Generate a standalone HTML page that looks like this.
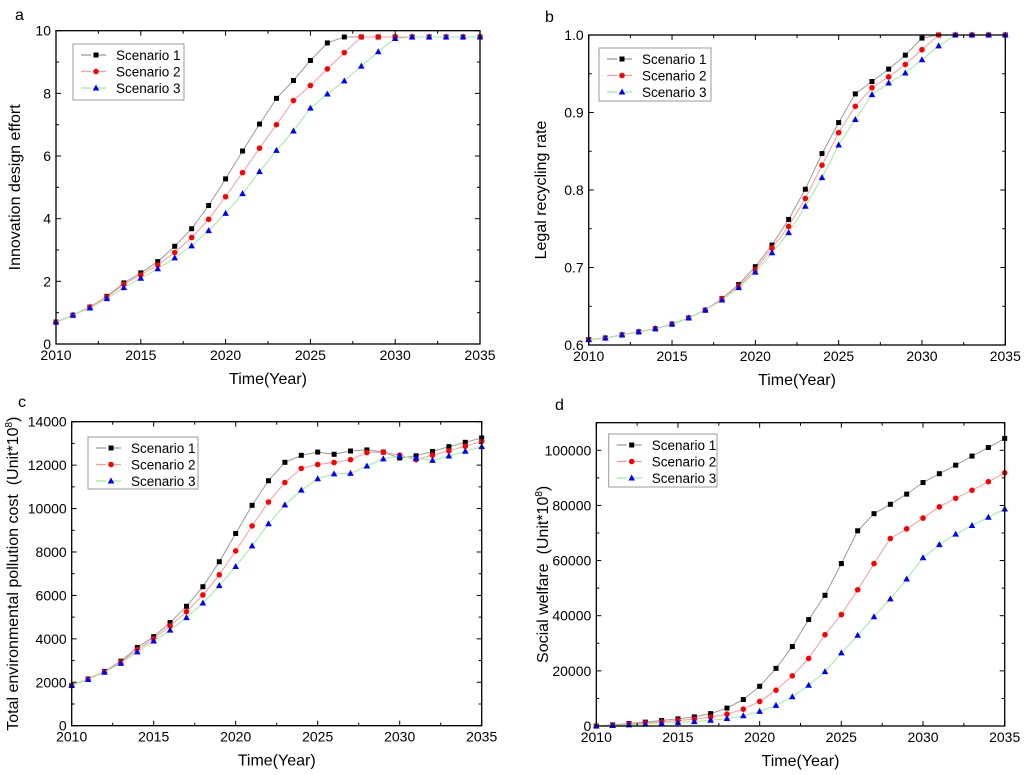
<!DOCTYPE html>
<html><head><meta charset="utf-8"><style>
html,body{margin:0;padding:0;background:#fff;width:1024px;height:775px;overflow:hidden}
svg{display:block;font-family:"Liberation Sans",Arial,sans-serif}
</style></head><body>
<svg id="fig" width="1024" height="775" viewBox="0 0 1024 775"></svg>
<script>
const years = [2010,2011,2012,2013,2014,2015,2016,2017,2018,2019,2020,2021,2022,2023,2024,2025,2026,2027,2028,2029,2030,2031,2032,2033,2034,2035];
const xTicks = [2010,2015,2020,2025,2030,2035];

const aS1 = [0.7,0.92,1.18,1.52,1.95,2.27,2.63,3.12,3.68,4.42,5.27,6.16,7.02,7.84,8.41,9.05,9.61,9.8,9.8,9.8,9.8,9.8,9.8,9.8,9.8,9.8];
const aS2 = [0.7,0.92,1.18,1.5,1.9,2.2,2.52,2.92,3.4,3.98,4.7,5.47,6.25,7.0,7.77,8.25,8.78,9.3,9.8,9.8,9.8,9.8,9.8,9.8,9.8,9.8];
const aS3 = [0.7,0.92,1.15,1.45,1.8,2.1,2.4,2.75,3.13,3.62,4.17,4.8,5.5,6.18,6.8,7.53,7.98,8.4,8.87,9.33,9.75,9.8,9.8,9.8,9.8,9.8];
const aTicks = [0,2,4,6,8,10];

const bS1 = [0.607,0.609,0.613,0.617,0.621,0.627,0.635,0.645,0.66,0.678,0.701,0.729,0.762,0.801,0.847,0.887,0.924,0.94,0.956,0.974,0.996,1.0,1.0,1.0,1.0,1.0];
const bS2 = [0.607,0.609,0.613,0.617,0.621,0.627,0.635,0.645,0.66,0.676,0.697,0.725,0.753,0.789,0.832,0.874,0.908,0.932,0.946,0.962,0.981,1.0,1.0,1.0,1.0,1.0];
const bS3 = [0.607,0.609,0.613,0.617,0.621,0.627,0.635,0.645,0.658,0.674,0.694,0.719,0.745,0.779,0.816,0.858,0.891,0.923,0.938,0.951,0.968,0.986,1.0,1.0,1.0,1.0];
const bTicks = [0.6,0.7,0.8,0.9,1.0];

const cS1 = [1850,2150,2500,2970,3600,4100,4750,5500,6400,7550,8850,10150,11280,12130,12450,12600,12500,12650,12700,12600,12330,12430,12630,12850,13050,13250];
const cS2 = [1850,2150,2480,2930,3500,4000,4600,5250,6020,6950,8050,9200,10300,11200,11850,12030,12120,12250,12580,12600,12460,12250,12460,12660,12870,13100];
const cS3 = [1850,2130,2460,2870,3400,3900,4400,4980,5650,6450,7330,8280,9300,10170,10850,11370,11600,11620,11960,12290,12420,12320,12220,12420,12640,12850];
const cTicks = [0,2000,4000,6000,8000,10000,12000,14000];

const dS1 = [0,400,900,1400,2000,2600,3300,4500,6500,9600,14400,20900,28800,38600,47400,58900,70800,77000,80400,84100,88300,91500,94600,97900,101000,104300];
const dS2 = [0,300,700,1100,1500,2000,2500,3200,4300,6100,8900,13000,18200,24500,33100,40400,49400,58900,68000,71500,75400,79500,82600,85500,88600,91800];
const dS3 = [0,200,400,700,1000,1300,1600,2100,2700,3700,5300,7500,10600,14800,19700,26500,32900,39600,46100,53300,61000,65800,69600,72700,75700,78700];
const dTicks = [0,20000,40000,60000,80000,100000];

const NS = "http://www.w3.org/2000/svg";
const svg = document.getElementById('fig');
function mk(tag, attrs, parent, text){
  const e = document.createElementNS(NS, tag);
  for (const k in attrs) e.setAttribute(k, attrs[k]);
  if (text !== undefined) e.textContent = text;
  (parent || svg).appendChild(e);
  return e;
}
const colors = ['#999999','#ff9999','#99ee99'];

function marker(g, kind, x, y){
  let m;
  if (kind === 0) m = mk('rect', {x:x-2.5, y:y-2.5, width:5, height:5, fill:'#000'}, g);
  else if (kind === 1) m = mk('circle', {cx:x, cy:y, r:2.8, fill:'#f00'}, g);
  else m = mk('polygon', {points:`${x},${y-3.5} ${x+3.3},${y+2.5} ${x-3.3},${y+2.5}`, fill:'#00f'}, g);
  
  
}

function panel(p){
  const g = mk('g', {}, svg);
  
  
  const {L,R,T,B,ymin,ymax} = p;
  const xs = v => L + (v - 2010) / 25 * (R - L);
  const ys = v => B - (v - ymin) / (ymax - ymin) * (B - T);
  const lab = mk('text', {x:p.lx, y:p.ly, 'font-size':16}, g, p.id);
  
  
  p.series.forEach((s, i) => {
    const sg = mk('g', {}, g);
    
    
    const pts = years.map((yr, j) => xs(yr).toFixed(1) + ',' + ys(s[j]).toFixed(1)).join(' ');
    const ln = mk('polyline', {points:pts, fill:'none', stroke:colors[i], 'stroke-width':1}, sg);
    
    
    years.forEach((yr, j) => marker(sg, i, xs(yr), ys(s[j])));
  });
  const fr = mk('rect', {x:L, y:T, width:R-L, height:B-T, fill:'none', stroke:'#000', 'stroke-width':1.3}, g);
  
  
  for (let v = 2010; v <= 2035; v += 2.5){
    const x = xs(v), len = (v % 5 === 0) ? 5 : 3;
    mk('line', {x1:x, y1:B, x2:x, y2:B-len, stroke:'#000'}, g);
    mk('line', {x1:x, y1:T, x2:x, y2:T+len, stroke:'#000'}, g);
  }
  xTicks.forEach(v => {
    const t = mk('text', {x:xs(v), y:B+16, 'font-size':14, 'text-anchor':'middle'}, g, String(v));
    
    
  });
  const step = p.yt[1] - p.yt[0];
  for (let v = ymin; v <= ymax + 1e-9; v += step/2){
    const y = ys(v), major = Math.abs(((v - ymin) / step) - Math.round((v - ymin) / step)) < 1e-6;
    const len = major ? 5 : 3;
    mk('line', {x1:L, y1:y, x2:L+len, y2:y, stroke:'#000'}, g);
    mk('line', {x1:R, y1:y, x2:R-len, y2:y, stroke:'#000'}, g);
  }
  p.yt.forEach(v => {
    const t = mk('text', {x:L-5, y:ys(v)+5, 'font-size':14, 'text-anchor':'end'}, g, p.fmt(v));
    
    
  });
  const xt = mk('text', {x:(L+R)/2, y:B+40, 'font-size':16, 'text-anchor':'middle'}, g, 'Time(Year)');
  
  
  const yt = mk('text', {x:0, y:0, 'font-size':16, 'text-anchor':'middle', transform:`translate(${p.ytx},${(T+B)/2}) rotate(-90)`}, g);
  
  
  yt.textContent = p.ytitle;
  if (p.sup){
    mk('tspan', {'font-size':10, dy:-6}, yt, '8');
    mk('tspan', {dy:6}, yt, ')');
  }
  const lg = mk('g', {}, g);
  
  
  mk('rect', {x:p.lg[0], y:p.lg[1], width:p.lg[2], height:p.lg[3], fill:'#fff', stroke:'#999', 'stroke-width':1}, lg);
  for (let i = 0; i < 3; i++){
    const ey = p.lg[1] + 11 + i * 16.5;
    const ex = p.lg[0] + 8;
    const eg = mk('g', {}, lg);
    
    
    mk('line', {x1:ex, y1:ey, x2:ex+30, y2:ey, stroke:colors[i], 'stroke-width':1.2, 'stroke-dasharray':'10,5'}, eg);
    marker(eg, i, ex+15, ey);
    mk('text', {x:ex+35, y:ey+5, 'font-size':13.5}, eg, 'Scenario ' + (i+1));
  }
}

panel({id:'a', L:56, R:480, T:30.7, B:344, ymin:0, ymax:10, series:[aS1,aS2,aS3], yt:aTicks, fmt:v=>String(v),
  lx:15, ly:20, ytx:20, ytitle:'Innovation design effort', lg:[73,44,111,56]});
panel({id:'b', L:588.7, R:1005.3, T:35, B:345, ymin:0.6, ymax:1.0, series:[bS1,bS2,bS3], yt:bTicks, fmt:v=>v.toFixed(1),
  lx:545, ly:22, ytx:546, ytitle:'Legal recycling rate', lg:[599,48,112,53]});
panel({id:'c', L:71.7, R:481.7, T:421.7, B:725.7, ymin:0, ymax:14000, series:[cS1,cS2,cS3], yt:cTicks, fmt:v=>String(v),
  lx:18, ly:407, ytx:18, ytitle:'Total environmental pollution cost\u00a0\u00a0(Unit*10', sup:true, lg:[88,437,110,52]});
panel({id:'d', L:596.3, R:1004.7, T:422.7, B:726, ymin:0, ymax:110000, series:[dS1,dS2,dS3], yt:dTicks, fmt:v=>String(v),
  lx:555, ly:410, ytx:548, ytitle:'Social welfare\u00a0\u00a0(Unit*10', sup:true, lg:[608.7,434,108.3,53]});
</script>
</body></html>
